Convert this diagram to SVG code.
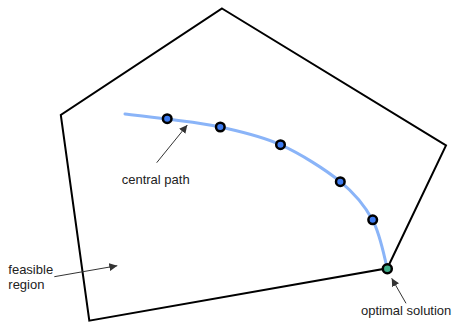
<svg xmlns="http://www.w3.org/2000/svg" width="455" height="322" viewBox="0 0 455 322">
<defs>
<marker id="arr" viewBox="0 0 10 10" refX="10" refY="5" markerWidth="8" markerHeight="8" markerUnits="userSpaceOnUse" orient="auto">
<path d="M0,0 L10,5 L0,10 z" fill="#333"/>
</marker>
<style>
.region{fill:none;stroke:#000;stroke-width:2;stroke-linejoin:miter}
.cpath{fill:none;stroke:#8ab4f8;stroke-width:3;stroke-linecap:round}
.pt{fill:#3d7bf0;stroke:#000;stroke-width:2.5}
.opt{fill:#3fae8a;stroke:#000;stroke-width:2.5}
.lead{stroke:#333;stroke-width:1;fill:none;marker-end:url(#arr)}
.lbl{font-family:"Liberation Sans",Arial,sans-serif;font-size:13px;fill:#222}
</style>
</defs>
<g id="feasible-region">
<polygon class="region" points="222,8.5 446,145.5 387.3,268.3 89.3,320.7 60.8,115"/>
</g>
<g id="central-path">
<path class="cpath" d="M125,114 C132.1,114.8 151.8,116.8 167.7,119 C183.6,121.2 201.5,122.7 220.3,127 C239.1,131.3 260.3,135.6 280.3,144.7 C300.3,153.8 324.9,169.1 340.3,181.7 C355.7,194.3 364.9,205.9 372.7,220.3 C380.5,234.7 384.9,260.3 387.3,268.3"/>
</g>
<g id="iterates">
<circle class="pt" cx="167.2" cy="118.7" r="4.3"/>
<circle class="pt" cx="220.3" cy="127" r="4.3"/>
<circle class="pt" cx="280.5" cy="144.7" r="4.3"/>
<circle class="pt" cx="340.3" cy="181.7" r="4.3"/>
<circle class="pt" cx="372.7" cy="219.8" r="4.3"/>
</g>
<g id="optimal-solution">
<circle class="opt" cx="387.3" cy="268.8" r="4.5"/>
</g>
<g id="connectors">
<line class="lead" x1="156.7" y1="162.7" x2="187.3" y2="125"/>
<line class="lead" x1="406" y1="303.3" x2="391.7" y2="278.3"/>
<line class="lead" x1="54.3" y1="276.7" x2="117.3" y2="265.7"/>
</g>
<g id="labels">
<text class="lbl" x="121.7" y="184">central path</text>
<text class="lbl" x="361" y="315">optimal solution</text>
<text class="lbl" x="8.3" y="274">feasible</text>
<text class="lbl" x="8.3" y="289.3">region</text>
</g>
</svg>
